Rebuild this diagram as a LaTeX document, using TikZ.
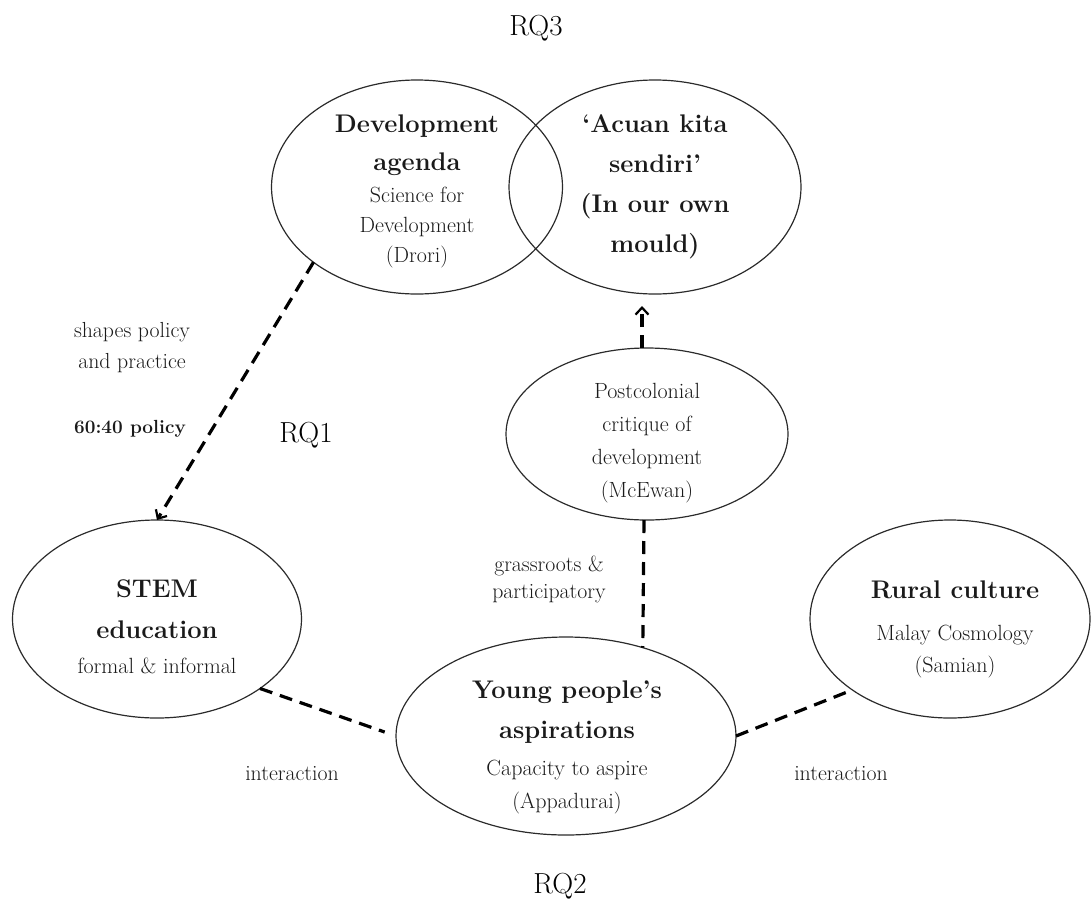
\documentclass[tikz,border=0pt]{standalone}
\usepackage{fontspec}
\usetikzlibrary{shapes.geometric,arrows.meta}
\definecolor{ink}{HTML}{1A1A1A}
\definecolor{rim}{HTML}{2B2B2B}
\begin{document}
\begin{tikzpicture}[x=1pt,y=-1pt,
  bubble/.style={draw=rim, line width=1.2pt, ellipse, inner sep=0pt, outer sep=0pt},
  % multi-line nodes sit on the baseline of their last line
  title/.style={font=\fontsize{25.5}{40}\selectfont\bfseries, text=ink, align=center, inner sep=0pt, anchor=base},
  note/.style={font=\fontsize{22}{32}\selectfont, text=ink, align=center, inner sep=0pt, anchor=base},
  tag/.style={font=\fontsize{21.8}{31}\selectfont, text=ink, align=center, inner sep=0pt, anchor=base},
  rq/.style={font=\fontsize{29}{30}\selectfont, text=black, inner sep=0pt, anchor=base},
  link/.style={draw=black, line width=3.2pt, dash pattern=on 13pt off 8pt},
  tip/.style={-{Straight Barb[length=7pt,width=13pt,line width=2.2pt]}}
]
\useasboundingbox (0,0) rectangle (1091,900);

% ellipses
\node[bubble, minimum width=291pt, minimum height=214pt] (dev)   at (417,187) {};
\node[bubble, minimum width=292pt, minimum height=214pt] (acuan) at (655,187) {};
\node[bubble, minimum width=282pt, minimum height=172pt] (post)  at (647,434) {};
\node[bubble, minimum width=289pt, minimum height=198pt] (stem)  at (157,619) {};
\node[bubble, minimum width=340pt, minimum height=198pt] (young) at (566,736) {};
\node[bubble, minimum width=280pt, minimum height=198pt] (rural) at (950,619) {};

% ellipse texts
\node[title, font=\fontsize{25.5}{38}\selectfont\bfseries] (devT) at (417,170) {Development\\agenda};
\node[note, font=\fontsize{22}{30}\selectfont] (devN) at (417,262) {Science for\\Development\\(Drori)};
\node[title] (acuanT) at (655,252) {‘Acuan kita\\sendiri’\\(In our own\\mould)};
\node[note, font=\fontsize{22}{33}\selectfont] (postN) at (647,497) {Postcolonial\\critique of\\development\\(McEwan)};
\node[title, font=\fontsize{25.5}{41}\selectfont\bfseries] (stemT) at (157,638) {STEM\\education};
\node[note] (stemN) at (157,673) {formal \& informal};
\node[title] (youngT) at (567,738) {Young people’s\\aspirations};
\node[note, font=\fontsize{22}{33}\selectfont] (youngN) at (567,808) {Capacity to aspire\\(Appadurai)};
\node[title] (ruralT) at (955,598) {Rural culture};
\node[note] (ruralN) at (955,672) {Malay Cosmology\\(Samian)};

% free labels
\node[tag] (shapes) at (132,368) {shapes policy\\and practice};
\node[tag, font=\fontsize{19}{30}\selectfont\bfseries] (ratio) at (130,433) {60:40 policy};
\node[tag, font=\fontsize{21.8}{27}\selectfont] (grass) at (549,598) {grassroots \&\\participatory};
\node[tag] (interL) at (292,780) {interaction};
\node[tag] (interR) at (841,780) {interaction};
\node[rq] (rq3) at (536,35) {RQ3};
\node[rq] (rq1) at (306,442) {RQ1};
\node[rq] (rq2) at (560,893) {RQ2};

% connectors
\draw[link, tip] (dev.216) -- (stem.north);
\draw[link, tip, shorten >=12pt] ([xshift=-5pt]post.north) -- ([xshift=-13pt]acuan.south);
\draw[link] ([xshift=-3pt]post.south) -- (young.49);
\draw[link, shorten >=12pt] (stem.-34) -- (young.west);
\draw[link] (young.east) -- (rural.216);
\end{tikzpicture}
\end{document}
